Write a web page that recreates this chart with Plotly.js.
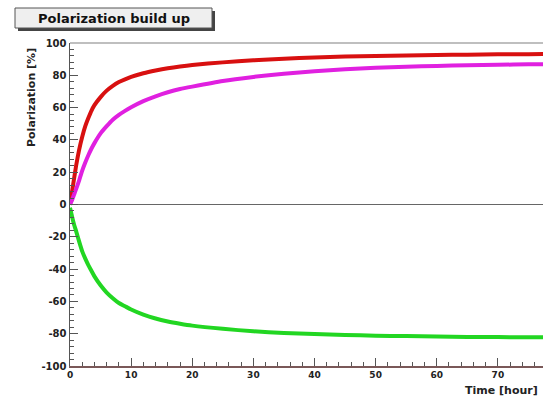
<!DOCTYPE html>
<html>
<head>
<meta charset="utf-8">
<script src="https://cdn.plot.ly/plotly-3.0.1.min.js"></script>
<style>
html, body { margin: 0; padding: 0; overflow: hidden; background: #fff; width: 543px; height: 399px; }
#chart { width: 600px; height: 399px; }
</style>
</head>
<body>
<div id="chart"></div>
<script>
// Time [hour]
const timeHours = [0, 0.25, 0.5, 0.75, 1, 1.5, 2, 2.5, 3, 3.5, 4, 5, 6, 7, 8, 9, 10, 12, 14, 16, 18, 20, 25, 30, 35, 40, 45, 50, 55, 60, 65, 70, 75, 80];
// Polarization [%]
const redPol = [0, 6, 12, 18, 24, 34, 42, 48.5, 53.5, 58, 61.5, 66.5, 70.5, 73.5, 75.8, 77.5, 79, 81.3, 83, 84.4, 85.5, 86.4, 88, 89.3, 90.3, 91, 91.6, 92, 92.3, 92.6, 92.8, 93, 93.1, 93.2];
const magentaPol = [0, 2, 4.5, 7, 9.5, 15, 21, 26, 30.5, 34.5, 38, 44, 48.5, 52.5, 55.5, 58, 60.2, 64, 67, 69.5, 71.5, 73, 76.5, 79, 81, 82.5, 83.7, 84.6, 85.3, 85.8, 86.2, 86.5, 86.8, 87];
const greenPol = [-2, -6, -10, -13.5, -16.5, -23, -29, -33.5, -37.5, -41, -44.5, -50, -54.5, -58, -61, -63, -65, -68.2, -70.6, -72.4, -73.8, -75, -77, -78.5, -79.5, -80.2, -80.8, -81.2, -81.5, -81.8, -82, -82.1, -82.2, -82.3];
const yTicks = [-100, -80, -60, -40, -20, 0, 20, 40, 60, 80, 100];
const xTicks = [0, 10, 20, 30, 40, 50, 60, 70];

const F = "DejaVu Sans, Liberation Sans, sans-serif";

const traces = [
  {x: timeHours, y: redPol, mode: "lines", line: {color: "#d81010", width: 4, shape: "spline", smoothing: 0.6}, hoverinfo: "none"},
  {x: timeHours, y: magentaPol, mode: "lines", line: {color: "#e020e0", width: 4, shape: "spline", smoothing: 0.6}, hoverinfo: "none"},
  {x: timeHours, y: greenPol, mode: "lines", line: {color: "#22d622", width: 4, shape: "spline", smoothing: 0.6}, hoverinfo: "none"}
];

const px = v => (v - 70) / 489;
const py = v => (366 - v) / 323;

const layout = {
  width: 600, height: 399,
  margin: {l: 70, r: 41, t: 43, b: 33},
  paper_bgcolor: "#ffffff", plot_bgcolor: "#ffffff",
  showlegend: false,
  xaxis: {
    range: [0, 80], tickvals: xTicks, ticktext: xTicks.map(String),
    ticks: "inside", ticklen: 8, tickcolor: "#555", tickwidth: 1,
    minor: {dtick: 2, ticks: "inside", ticklen: 4, tickcolor: "#555"},
    showgrid: false, zeroline: false, showline: true, linecolor: "#7a5858", linewidth: 1.5,
    tickfont: {family: F, size: 9, color: "#222", weight: "bold"}
  },
  yaxis: {
    range: [-100, 100], tickvals: yTicks, ticktext: yTicks.map(String),
    ticks: "inside", ticklen: 8, tickcolor: "#555", tickwidth: 1,
    minor: {dtick: 4, ticks: "inside", ticklen: 4, tickcolor: "#555"},
    showgrid: false, zeroline: true, zerolinecolor: "#666", zerolinewidth: 1,
    showline: true, linecolor: "#555", linewidth: 1.5,
    tickfont: {family: F, size: 10, color: "#222", weight: "bold"}
  },
  shapes: [
    {type: "line", xref: "paper", yref: "paper", x0: 0, x1: 1, y0: 1, y1: 1, line: {color: "#aaaaaa", width: 1.5}},
    {type: "rect", xref: "paper", yref: "paper", x0: px(18), x1: px(215), y0: py(11), y1: py(31), fillcolor: "#444", line: {width: 0}},
    {type: "rect", xref: "paper", yref: "paper", x0: px(15), x1: px(212), y0: py(8), y1: py(28), fillcolor: "#efefef", line: {color: "#555", width: 1}}
  ],
  annotations: [
    {text: "Polarization build up", xref: "paper", yref: "paper", x: px(113.5), y: py(18), xanchor: "center", yanchor: "middle", showarrow: false,
     font: {family: F, size: 13, color: "#111", weight: "bold"}},
    {text: "Polarization [%]", xref: "paper", yref: "paper", x: px(31), y: py(98), xanchor: "center", yanchor: "middle", textangle: -90, showarrow: false,
     font: {family: F, size: 11, color: "#222", weight: "bold"}},
    {text: "Time [hour]", xref: "paper", yref: "paper", x: px(540), y: py(390), xanchor: "right", yanchor: "middle", showarrow: false,
     font: {family: F, size: 11, color: "#222", weight: "bold"}}
  ]
};

Plotly.newPlot("chart", traces, layout, {staticPlot: true, displayModeBar: false});
</script>
</body>
</html>
